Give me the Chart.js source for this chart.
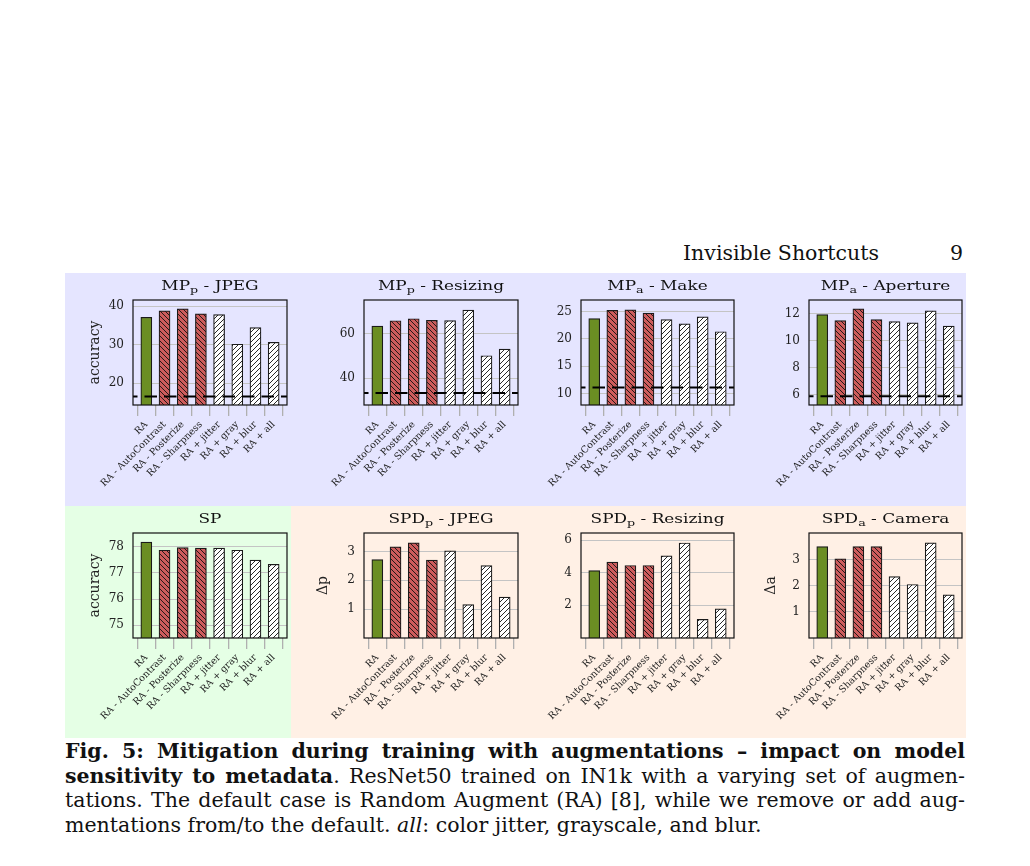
<!DOCTYPE html>
<html><head><meta charset="utf-8">
<script src="https://cdn.jsdelivr.net/npm/chart.js@4.4.0/dist/chart.umd.min.js"></script>
<style>
body{margin:0;background:#fff;width:1030px;height:866px;position:relative;overflow:hidden;font-family:"DejaVu Serif",serif;color:#111}
.bg{position:absolute}
canvas{position:absolute}
.ttl{position:absolute;text-align:center;font-size:13px;line-height:14px;white-space:nowrap;color:#111;transform:scaleX(1.3);transform-origin:center}
.ttl sub{font-size:75%;line-height:0;vertical-align:-0.3em}
.hdr{position:absolute;font-size:20.5px;line-height:22px;white-space:nowrap}
.cap{position:absolute;left:65px;width:900px;font-size:20.5px;line-height:24px;white-space:nowrap;text-align:justify;text-align-last:justify}
.cap.last{text-align:left;text-align-last:left}
</style></head><body>
<div class="bg" style="left:65px;top:273px;width:901px;height:233px;background:#e5e5ff"></div>
<div class="bg" style="left:65px;top:506px;width:226px;height:232px;background:#e5ffe5"></div>
<div class="bg" style="left:291px;top:506px;width:675px;height:232px;background:#fff0e5"></div>
<div class="hdr" style="left:683px;top:242px">Invisible Shortcuts</div>
<div class="hdr" style="right:67px;top:242px">9</div>
<div class="cap" style="top:739px"><b>Fig. 5: Mitigation during training with augmentations – impact on model</b></div>
<div class="cap" style="top:763.5px"><b>sensitivity to metadata</b>. ResNet50 trained on IN1k with a varying set of augmen-</div>
<div class="cap" style="top:788px">tations. The default case is Random Augment (RA) [8], while we remove or add aug-</div>
<div class="cap last" style="top:812.5px">mentations from/to the default. <i>all</i>: color jitter, grayscale, and blur.</div>
<script>
// ---- data ----
const categories = ['RA','RA - AutoContrast','RA - Posterize','RA - Sharpness','RA + jitter','RA + gray','RA + blur','RA + all'];
const barKinds = ['base','remove','remove','remove','add','add','add','add'];
const titleMain = ['MP','MP','MP','MP','SP','SPD','SPD','SPD'];
const titleSub  = ['p','p','a','a','','p','p','a'];
const titleRest = [' - JPEG',' - Resizing',' - Make',' - Aperture','',' - JPEG',' - Resizing',' - Camera'];
const yTitles = ['accuracy','','','','accuracy','Δp','','Δa'];
const valsMPpJPEG      = [37.1, 38.8, 39.3, 38.0, 37.8, 30.1, 34.4, 30.6];
const valsMPpResizing  = [63.4, 65.8, 66.7, 66.0, 65.9, 70.6, 50.1, 53.1];
const valsMPaMake      = [23.7, 25.2, 25.3, 24.7, 23.5, 22.75, 24.0, 21.3];
const valsMPaAperture  = [11.93, 11.48, 12.35, 11.56, 11.41, 11.31, 12.2, 11.07];
const valsSP           = [78.18, 77.87, 77.97, 77.95, 77.95, 77.87, 77.49, 77.33];
const valsSPDpJPEG     = [2.72, 3.16, 3.30, 2.70, 3.02, 1.16, 2.51, 1.42];
const valsSPDpResizing = [4.13, 4.65, 4.44, 4.44, 5.03, 5.82, 1.14, 1.79];
const valsSPDaCamera   = [3.50, 3.03, 3.50, 3.50, 2.35, 2.05, 3.64, 1.65];
const baselines = [16.5, 33.4, 11.1, 5.9, null, null, null, null];
const yMin = [14.3, 28.0, 7.9, 5.26, 74.51, 0, 0, 0];
const yMax = [41.6, 75.1, 27.1, 13.0, 78.53, 3.64, 6.43, 4.02];
const yTicks = [[20,30,40],[40,60],[10,15,20,25],[6,8,10,12],[75,76,77,78],[1,2,3],[2,4,6],[1,2,3]];

// ---- layout ----
const panels = [valsMPpJPEG, valsMPpResizing, valsMPaMake, valsMPaAperture, valsSP, valsSPDpJPEG, valsSPDpResizing, valsSPDaCamera];
const colLeft = [133, 364, 581, 809], colWidth = [154, 154, 153, 153];
const rowTop = [300, 533], rowHeight = [105, 105];
const titleTop = [279, 512];
const PADL = 52, PADT = 8, PADR = 4, PADB = 95;
const yTitlePad = [6.3, 0, 0, 0, 6.3, 3, 0, 6.3];

// fit caption lines that overflow
document.querySelectorAll('.cap').forEach(el => {
  let ls = 0;
  while (el.scrollWidth > el.clientWidth + 0.5 && ls > -2) {
    ls -= 0.1;
    el.style.letterSpacing = ls.toFixed(2) + 'px';
  }
});

function makePattern(bg, dir) {
  const s = 5, c = document.createElement('canvas');
  c.width = s; c.height = s;
  const g = c.getContext('2d');
  g.fillStyle = bg; g.fillRect(0, 0, s, s);
  g.strokeStyle = '#111'; g.lineWidth = 0.9;
  g.beginPath();
  if (dir === '/') {
    g.moveTo(0, s); g.lineTo(s, 0);
    g.moveTo(-1, 1); g.lineTo(1, -1);
    g.moveTo(s - 1, s + 1); g.lineTo(s + 1, s - 1);
  } else {
    g.moveTo(0, 0); g.lineTo(s, s);
    g.moveTo(-1, s - 1); g.lineTo(1, s + 1);
    g.moveTo(s - 1, -1); g.lineTo(s + 1, 1);
  }
  g.stroke();
  return g.createPattern(c, 'repeat');
}
const fills = {
  base: '#6b8e23',
  remove: makePattern('#cd5c5c', '\\'),
  add: makePattern('#ffffff', '/')
};

const framePlugin = {
  id: 'frame',
  afterDatasetsDraw(chart, args, opts) {
    const a = chart.chartArea, ctx = chart.ctx;
    if (opts.baseline != null) {
      const y = chart.scales.y.getPixelForValue(opts.baseline);
      ctx.save();
      ctx.setLineDash([12.5, 7]);
      ctx.lineDashOffset = 8;
      ctx.lineWidth = 2;
      ctx.strokeStyle = '#000';
      ctx.beginPath(); ctx.moveTo(a.left, y); ctx.lineTo(a.right, y); ctx.stroke();
      ctx.restore();
    }
  },
  afterDraw(chart) {
    const a = chart.chartArea, ctx = chart.ctx;
    ctx.save();
    ctx.lineWidth = 1.2; ctx.strokeStyle = '#111';
    ctx.strokeRect(a.left, a.top, a.right - a.left, a.bottom - a.top);
    ctx.restore();
  }
};

panels.forEach((vals, i) => {
  const col = i % 4, row = Math.floor(i / 4);
  const w = colWidth[col] + PADL + PADR, h = rowHeight[row] + PADT + PADB;
  const cv = document.createElement('canvas');
  cv.width = w; cv.height = h;
  cv.style.left = (colLeft[col] - PADL) + 'px';
  cv.style.top = (rowTop[row] - PADT) + 'px';
  cv.style.width = w + 'px'; cv.style.height = h + 'px';
  document.body.appendChild(cv);

  const t = document.createElement('div');
  t.className = 'ttl';
  t.style.left = colLeft[col] + 'px';
  t.style.width = colWidth[col] + 'px';
  t.style.top = titleTop[row] + 'px';
  t.innerHTML = titleMain[i] + (titleSub[i] ? '<sub>' + titleSub[i] + '</sub>' : '') + titleRest[i];
  document.body.appendChild(t);

  new Chart(cv, {
    type: 'bar',
    data: {
      datasets: [{
        data: vals.map((v, k) => ({ x: k, y: v })),
        backgroundColor: barKinds.map(k => fills[k]),
        borderColor: '#1a1a1a',
        borderWidth: 1.2,
        barThickness: 11,
        clip: 0
      }]
    },
    options: {
      responsive: false,
      animation: false,
      devicePixelRatio: 1,
      layout: { padding: { left: 0, top: PADT, right: PADR, bottom: 0 } },
      plugins: {
        legend: { display: false },
        tooltip: { enabled: false },
        frame: { baseline: baselines[i] }
      },
      scales: {
        x: {
          type: 'linear', min: -0.733, max: 7.733, offset: false,
          grid: { display: true, drawOnChartArea: false, drawTicks: true, tickLength: 11, color: '#b0b0b0', lineWidth: 1.3 },
          border: { display: false },
          ticks: {
            autoSkip: false, maxRotation: 45, minRotation: 45, padding: 3,
            font: { family: 'DejaVu Serif', size: 9.5 }, color: '#222',
            callback: (v) => (categories[v] !== undefined ? categories[v] : '')
          },
          afterBuildTicks: (s) => { s.ticks = categories.map((_, k) => ({ value: k })); },
          afterFit: (s) => { s.height = PADB; s.paddingLeft = 0; s.paddingRight = 0; }
        },
        y: {
          type: 'linear', min: yMin[i], max: yMax[i],
          grid: { color: '#c4c4c4', lineWidth: 1, drawTicks: false },
          border: { display: false },
          ticks: {
            padding: 9, font: { family: 'DejaVu Serif', size: 12 }, color: '#222',
            callback: (v) => String(v)
          },
          afterBuildTicks: (s) => { s.ticks = yTicks[i].map(v => ({ value: v })); },
          afterFit: (s) => { s.width = PADL; s.paddingTop = 0; s.paddingBottom = 0; },
          title: {
            display: !!yTitles[i], text: yTitles[i],
            font: { family: 'DejaVu Serif', size: 14 }, color: '#222',
            padding: { top: yTitlePad[i], bottom: 0 }
          }
        }
      }
    },
    plugins: [framePlugin]
  });
});
</script>
</body></html>
